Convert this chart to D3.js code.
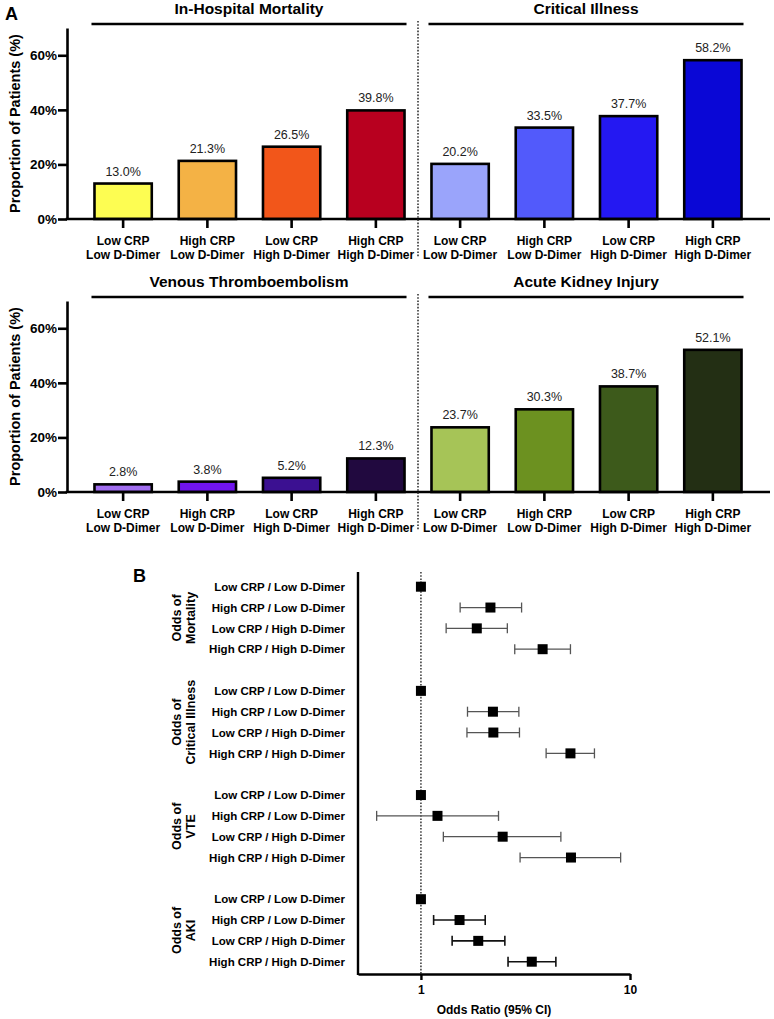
<!DOCTYPE html>
<html>
<head>
<meta charset="utf-8">
<script src="https://cdn.jsdelivr.net/npm/d3@7"></script>
<style>
  body { margin: 0; background: #fff; }
  svg { display: block; font-family: "Liberation Sans", Arial, Helvetica, sans-serif; }
</style>
</head>
<body>
<svg id="chart" width="774" height="1019"></svg>
<script>
// ---------- DATA ----------
const groups = ["Low CRP / Low D-Dimer", "High CRP / Low D-Dimer", "Low CRP / High D-Dimer", "High CRP / High D-Dimer"];
const panelTitles = ["In-Hospital Mortality", "Critical Illness", "Venous Thromboembolism", "Acute Kidney Injury"];
const mortality = [13.0, 21.3, 26.5, 39.8];
const critical  = [20.2, 33.5, 37.7, 58.2];
const vte       = [2.8, 3.8, 5.2, 12.3];
const aki       = [23.7, 30.3, 38.7, 52.1];
const yTicks = [0, 20, 40, 60];

const mortalityColors = ["#FDFD52", "#F4B245", "#F2561A", "#B8001F"];
const criticalColors  = ["#9AA4FB", "#525AFB", "#2418F2", "#0A07D6"];
const vteColors       = ["#A16EF0", "#7014EE", "#3B1091", "#21093F"];
const akiColors       = ["#A6C457", "#6C9120", "#3D5A1B", "#232F14"];

// Forest plot: odds ratio, lower CI, upper CI
const forestGroups = [["Odds of", "Mortality"], ["Odds of", "Critical Illness"], ["Odds of", "VTE"], ["Odds of", "AKI"]];
const orMortality = [[1, null, null], [2.15, 1.54, 3.03], [1.85, 1.32, 2.59], [3.82, 2.81, 5.19]];
const orCritical  = [[1, null, null], [2.21, 1.67, 2.94], [2.22, 1.66, 2.96], [5.19, 3.97, 6.76]];
const orVTE       = [[1, null, null], [1.20, 0.614, 2.35], [2.46, 1.28, 4.67], [5.22, 2.98, 9.02]];
const orAKI       = [[1, null, null], [1.53, 1.15, 2.03], [1.88, 1.41, 2.52], [3.39, 2.61, 4.42]];
const orTicks = [1, 10];

// ---------- DRAW ----------
const svg = d3.select("#chart");
const bold = "bold";

const keys = [];
[0, 1].forEach(p => groups.forEach((g, i) => keys.push(p + "-" + i)));
const x = d3.scaleBand().domain(keys).range([81, 755]).paddingInner(0.32).paddingOuter(0.16);
const axisX0 = 67, axisX1 = 770;

function drawRow(yRange, leftVals, rightVals, leftCols, rightCols, leftTitle, rightTitle) {
  const y = d3.scaleLinear().domain([0, 70]).range(yRange);
  const g = svg.append("g");

  // y axis
  const ya = g.append("g").attr("transform", `translate(${axisX0},0)`)
    .call(d3.axisLeft(y).tickValues(yTicks).tickFormat(d => d + "%").tickSize(9).tickSizeOuter(0));
  ya.select(".domain").attr("stroke", "#000").attr("stroke-width", 2.6);
  ya.selectAll(".tick line").attr("stroke", "#000").attr("stroke-width", 2.6);
  ya.selectAll(".tick text").attr("font-size", 13.5).attr("font-weight", bold).attr("fill", "#000").attr("x", -10)
    .attr("font-family", "Liberation Sans, Arial, sans-serif");

  // y label
  g.append("text")
    .attr("transform", `translate(16,${(yRange[0] + yRange[1]) / 2}) rotate(-90)`)
    .attr("text-anchor", "middle").attr("dominant-baseline", "middle")
    .attr("font-size", 14.5).attr("font-weight", bold).text("Proportion of Patients (%)");

  const data = [];
  leftVals.forEach((v, i) => data.push({ k: "0-" + i, v, c: leftCols[i], g: groups[i] }));
  rightVals.forEach((v, i) => data.push({ k: "1-" + i, v, c: rightCols[i], g: groups[i] }));

  // bars
  g.selectAll("rect.bar").data(data).enter().append("rect")
    .attr("class", "bar")
    .attr("x", d => x(d.k)).attr("width", x.bandwidth())
    .attr("y", d => y(d.v)).attr("height", d => y(0) - y(d.v))
    .attr("fill", d => d.c).attr("stroke", "#000").attr("stroke-width", 2.6);

  // value labels
  g.selectAll("text.val").data(data).enter().append("text")
    .attr("class", "val")
    .attr("x", d => x(d.k) + x.bandwidth() / 2).attr("y", d => y(d.v) - 8)
    .attr("text-anchor", "middle").attr("font-size", 12.5).attr("fill", "#222")
    .text(d => d.v.toFixed(1) + "%");

  // x axis
  const xa = g.append("g").attr("transform", `translate(0,${y(0)})`)
    .call(d3.axisBottom(x).tickSize(9).tickFormat(""));
  xa.select(".domain").remove();
  xa.selectAll(".tick line").attr("stroke", "#000").attr("stroke-width", 2.6);
  g.append("line").attr("x1", axisX0 - 1.3).attr("x2", axisX1).attr("y1", y(0)).attr("y2", y(0))
    .attr("stroke", "#000").attr("stroke-width", 2.6);

  // category labels
  data.forEach(d => {
    const parts = d.g.split(" / ");
    const t = g.append("text").attr("text-anchor", "middle").attr("font-size", 12).attr("font-weight", bold)
      .attr("x", x(d.k) + x.bandwidth() / 2).attr("y", y(0) + 26);
    t.append("tspan").attr("x", x(d.k) + x.bandwidth() / 2).attr("dy", 0).text(parts[0]);
    t.append("tspan").attr("x", x(d.k) + x.bandwidth() / 2).attr("dy", 13.5).text(parts[1]);
  });

  // panel titles + bars
  [[leftTitle, "0-0", "0-3"], [rightTitle, "1-0", "1-3"]].forEach(([title, k0, k3]) => {
    const x0 = x(k0) - 3, x1 = x(k3) + x.bandwidth() + 2;
    g.append("line").attr("x1", x0).attr("x2", x1).attr("y1", yRange[1] - 4).attr("y2", yRange[1] - 4)
      .attr("stroke", "#000").attr("stroke-width", 2.6);
    g.append("text").attr("x", (x0 + x1) / 2).attr("y", yRange[1] - 14)
      .attr("text-anchor", "middle").attr("font-size", 15.5).attr("font-weight", bold).text(title);
  });

  // dotted separator
  const sepX = (x("0-3") + x.bandwidth() + x("1-0")) / 2;
  g.append("line").attr("x1", sepX).attr("x2", sepX).attr("y1", yRange[1] - 7).attr("y2", y(0) + 38)
    .attr("stroke", "#333").attr("stroke-width", 1.6).attr("stroke-dasharray", "1.6,1.6");
}

drawRow([219, 28], mortality, critical, mortalityColors, criticalColors, panelTitles[0], panelTitles[1]);
drawRow([492, 301], vte, aki, vteColors, akiColors, panelTitles[2], panelTitles[3]);

// panel letters
svg.append("text").attr("x", 5).attr("y", 20).attr("font-size", 18).attr("font-weight", bold).text("A");
svg.append("text").attr("x", 133).attr("y", 582).attr("font-size", 18).attr("font-weight", bold).text("B");

// ---------- FOREST ----------
const fx = d3.scaleLog().domain([0.5, 10]).range([358, 630]);
const rowIdx = d3.range(19);
const fy = d3.scalePoint().domain(rowIdx).range([586.7, 961.7]);
const forestData = [orMortality, orCritical, orVTE, orAKI];
const fg = svg.append("g");
const axisTop = 572, axisBottomY = 974;

// reference dotted line at OR = 1
fg.append("line").attr("x1", fx(1)).attr("x2", fx(1)).attr("y1", axisTop).attr("y2", axisBottomY)
  .attr("stroke", "#333").attr("stroke-width", 1.5).attr("stroke-dasharray", "1.6,1.6");

// axes
fg.append("line").attr("x1", fx.range()[0]).attr("x2", fx.range()[0]).attr("y1", axisTop).attr("y2", axisBottomY + 1)
  .attr("stroke", "#000").attr("stroke-width", 2.4);
const fxa = fg.append("g").attr("transform", `translate(0,${axisBottomY})`)
  .call(d3.axisBottom(fx).tickValues(orTicks).tickFormat(d3.format("d")).tickSize(6).tickSizeOuter(0));
fxa.select(".domain").attr("stroke", "#000").attr("stroke-width", 2.4);
fxa.selectAll(".tick line").attr("stroke", "#000").attr("stroke-width", 2.4);
fxa.selectAll(".tick text").attr("font-size", 12).attr("font-weight", bold).attr("fill", "#000")
  .attr("font-family", "Liberation Sans, Arial, sans-serif").attr("dy", "0.9em");
fg.append("text").attr("x", (fx.range()[0] + fx.range()[1]) / 2).attr("y", 1014)
  .attr("text-anchor", "middle").attr("font-size", 12).attr("font-weight", bold).text("Odds Ratio (95% CI)");

forestData.forEach((series, gi) => {
  const rows = series.map((d, i) => ({ r: gi * 5 + i, or: d[0], lo: d[1], hi: d[2], label: groups[i] }));
  // row labels
  fg.selectAll(null).data(rows).enter().append("text")
    .attr("x", 345).attr("y", d => fy(d.r)).attr("dy", "0.36em")
    .attr("text-anchor", "end").attr("font-size", 11.5).attr("font-weight", bold).text(d => d.label);
  // group labels
  const mid = (fy(gi * 5) + fy(gi * 5 + 3)) / 2;
  const gl = fg.append("text").attr("transform", `translate(184,${mid}) rotate(-90)`)
    .attr("text-anchor", "middle").attr("font-size", 12.5).attr("font-weight", bold);
  gl.append("tspan").attr("x", 0).attr("dy", "-0.25em").text(forestGroups[gi][0]);
  gl.append("tspan").attr("x", 0).attr("dy", "1.1em").text(forestGroups[gi][1]);
  // CIs
  const ci = rows.filter(d => d.lo != null);
  const ciColor = gi === 3 ? "#111" : "#555";
  const ciW = gi === 3 ? 1.6 : 1.3;
  fg.selectAll(null).data(ci).enter().append("line")
    .attr("x1", d => fx(d.lo)).attr("x2", d => fx(d.hi)).attr("y1", d => fy(d.r)).attr("y2", d => fy(d.r))
    .attr("stroke", ciColor).attr("stroke-width", ciW);
  ["lo", "hi"].forEach(side => {
    fg.selectAll(null).data(ci).enter().append("line")
      .attr("x1", d => fx(d[side])).attr("x2", d => fx(d[side]))
      .attr("y1", d => fy(d.r) - 5).attr("y2", d => fy(d.r) + 5)
      .attr("stroke", ciColor).attr("stroke-width", ciW);
  });
  // markers
  fg.selectAll(null).data(rows).enter().append("rect")
    .attr("x", d => fx(d.or) - 5).attr("y", d => fy(d.r) - 5).attr("width", 10).attr("height", 10)
    .attr("fill", "#000");
});
</script>
</body>
</html>
